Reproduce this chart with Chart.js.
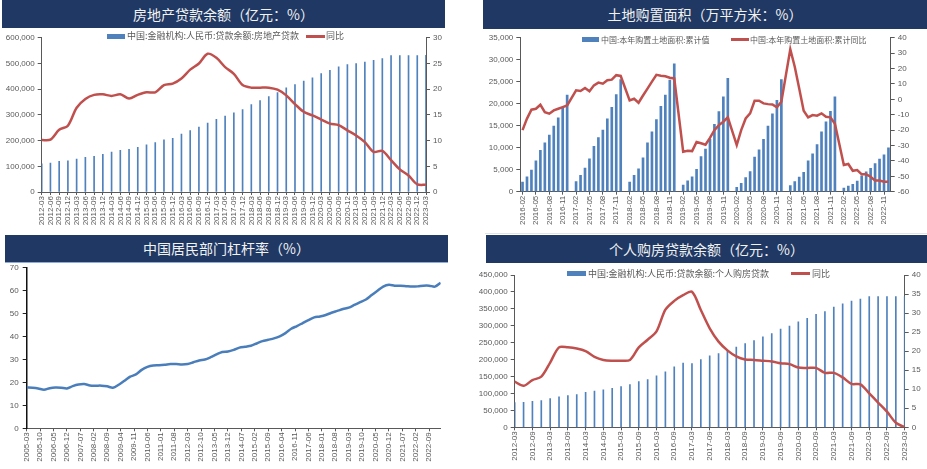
<!DOCTYPE html>
<html>
<head>
<meta charset="utf-8">
<script src="https://cdn.jsdelivr.net/npm/chart.js@4.4.0/dist/chart.umd.min.js"></script>
<style>
body { margin: 0; width: 927px; height: 469px; background: #fff; position: relative; overflow: hidden; }
canvas { position: absolute; }
.title { position: absolute; background: #1f3864; color: #f2f2f2; font: 14px "Noto Sans CJK SC", sans-serif; text-align: center; z-index: 2; }
.lg { position: absolute; color: #595959; font-family: "Noto Sans CJK SC", sans-serif; white-space: nowrap; height: 12px; line-height: 12px; z-index: 3; }
.sw { position: absolute; z-index: 3; }
</style>
</head>
<body>

<canvas id="reChart" width="445" height="200" style="left:0;top:30px"></canvas>
<canvas id="landChart" width="457" height="202" style="left:470px;top:30px"></canvas>
<canvas id="levChart" width="448" height="208" style="left:0;top:259px"></canvas>
<canvas id="hlChart" width="457" height="200" style="left:470px;top:266px"></canvas>

<div class="title" style="left:2px;top:0;width:443px;height:28px;line-height:28px">房地产贷款余额（亿元：%）</div>
<div class="title" style="left:483px;top:0;width:444px;height:29px;line-height:29px">土地购置面积（万平方米：%）</div>
<div class="title" style="left:5px;top:235px;width:443px;height:27px;line-height:27px;border-bottom:1px solid #8ea9db">中国居民部门杠杆率（%）</div>
<div class="title" style="left:486px;top:235px;width:441px;height:28px;line-height:28px">个人购房贷款余额（亿元：%）</div>

<!-- legends -->
<div class="sw" style="left:107px;top:33.5px;width:18px;height:5px;background:#4f81bd"></div>
<div class="lg" style="left:127px;top:30px;font-size:9px">中国:金融机构:人民币:贷款余额:房地产贷款</div>
<div class="sw" style="left:306px;top:35px;width:19px;height:2.5px;background:#c0504d"></div>
<div class="lg" style="left:326px;top:30px;font-size:9px">同比</div>

<div class="sw" style="left:582px;top:37px;width:17px;height:5px;background:#4f81bd"></div>
<div class="lg" style="left:601px;top:33.5px;font-size:8px">中国:本年购置土地面积:累计值</div>
<div class="sw" style="left:731px;top:38.3px;width:18px;height:2.5px;background:#c0504d"></div>
<div class="lg" style="left:750px;top:33.5px;font-size:8px">中国:本年购置土地面积:累计同比</div>

<div class="sw" style="left:567px;top:271px;width:19px;height:5px;background:#4f81bd"></div>
<div class="lg" style="left:588px;top:267.5px;font-size:9px">中国:金融机构:人民币:贷款余额:个人购房贷款</div>
<div class="sw" style="left:791px;top:272.3px;width:19px;height:2.5px;background:#c0504d"></div>
<div class="lg" style="left:812px;top:267.5px;font-size:9px">同比</div>

<div style="position:absolute;left:485px;top:233px;width:442px;height:1px;background:#e3e3e3"></div>

<script>
// ---------- data ----------

// 房地产贷款余额 (quarterly)
const reQuarters = [
  '2012-03','2012-06','2012-09','2012-12','2013-03','2013-06','2013-09','2013-12',
  '2014-03','2014-06','2014-09','2014-12','2015-03','2015-06','2015-09','2015-12',
  '2016-03','2016-06','2016-09','2016-12','2017-03','2017-06','2017-09','2017-12',
  '2018-03','2018-06','2018-09','2018-12','2019-03','2019-06','2019-09','2019-12',
  '2020-03','2020-06','2020-09','2020-12','2021-03','2021-06','2021-09','2021-12',
  '2022-03','2022-06','2022-09','2022-12','2023-03'
];
const reLoans = [
  110000, 113000, 119000, 121000, 128000, 135000, 139000, 147000,
  155000, 162000, 166000, 174000, 184000, 192000, 203000, 209000,
  225000, 239000, 253000, 268000, 283000, 295000, 308000, 321000,
  340000, 356000, 371000, 387000, 405000, 418000, 432000, 444000,
  461000, 473000, 487000, 496000, 500000, 506000, 512000, 519000,
  531000, 531000, 531000, 531000, 532000
];
const reYoY = [
  10.1, 10.2, 12.1, 12.9, 16.4, 18.1, 18.9, 19.0,
  18.7, 19.0, 18.2, 18.9, 19.4, 19.4, 20.8, 21.1,
  22.1, 23.8, 25.0, 26.9, 26.1, 24.3, 23.0, 20.8,
  20.3, 20.3, 20.3, 19.9, 18.8, 17.1, 15.6, 14.9,
  14.1, 13.3, 13.0, 12.0, 11.0, 9.7, 7.8, 8.0,
  6.2, 4.4, 3.2, 1.5, 1.4
];

// 土地购置面积 (monthly cumulative, January has no release)
const landMonths = [];
for (let y = 2016; y <= 2022; y++) {
  for (let m = (y === 2016 ? 2 : 1); m <= 12; m++) {
    landMonths.push(y + '-' + String(m).padStart(2, '0'));
  }
}
const landArea = [
  2200, 3400, 4900, 7000, 9400, 11100, 12900, 14900, 16800, 19200, 22000,
  null, 2300, 3700, 5400, 7500, 10300, 12300, 14000, 16600, 19200, 22100, 25500,
  null, 2200, 3700, 5200, 7700, 11100, 13600, 16400, 19400, 22000, 25400, 29100,
  null, 1500, 2500, 3400, 5100, 8000, 9700, 11900, 15300, 18200, 21600, 25800,
  null, 1000, 1900, 3200, 4600, 7900, 9500, 11900, 14900, 17700, 20800, 25500,
  null, 1400, 2300, 3300, 4400, 7000, 8600, 10700, 13600, 15900, 18300, 21600,
  null, 800, 1300, 1700, 2400, 3600, 4500, 5300, 6400, 7400, 8400, 10000
];
const landYoY = [
  -20.0, -12.5, -6.7, -6.1, -3.5, -8.3, -9.3, -7.2, -6.1, -5.0, -3.9,
  null, 5.9, 5.4, 7.4, 5.2, 9.1, 10.9, 10.2, 12.4, 12.8, 15.7, 15.2,
  null, -0.7, 0.4, -2.2, 2.5, 7.0, 11.5, 15.9, 15.4, 15.0, 14.1, 13.6,
  null, -34.0, -33.4, -33.6, -27.7, -28.5, -29.5, -25.0, -20.0, -16.7, -14.5, -11.7,
  null, -29.7, -20.0, -12.4, -9.1, -0.9, -0.9, -2.6, -3.1, -3.3, -5.2, -1.6,
  null, 32.6, 21.2, 7.1, -7.4, -11.7, -10.2, -10.6, -9.1, -11.3, -11.7, -15.9,
  null, -42.7, -42.0, -46.4, -45.9, -48.7, -48.7, -50.3, -52.8, -52.8, -53.5, -53.5
];

// 中国居民部门杠杆率 (quarterly, 2005-03 .. 2023-03)
const levStart = '2005-03';
const leverage = [
  17.8, 17.7, 17.4, 16.8, 17.5, 17.8, 17.7, 17.4, 18.4, 19.1,
  19.3, 18.7, 18.6, 18.6, 18.3, 17.7, 19.0, 20.7, 22.5, 23.5,
  25.5, 26.8, 27.4, 27.5, 27.7, 28.0, 28.0, 27.8, 28.0, 28.8,
  29.6, 30.0, 31.0, 32.2, 33.3, 33.5, 34.2, 35.2, 35.6, 36.0,
  37.0, 38.0, 38.6, 39.2, 40.1, 41.5, 43.4, 44.6, 45.9, 47.2,
  48.4, 48.8, 49.4, 50.4, 51.2, 52.0, 52.6, 53.8, 55.0, 56.2,
  58.1, 60.0, 61.8, 62.6, 62.2, 62.2, 62.0, 61.8, 61.9, 62.2,
  62.2, 61.8, 63.5
];

// 个人购房贷款余额 (quarterly)
const hlQuarters = reQuarters;
const hlLoans = [
  73000, 74000, 77000, 79000, 85000, 90000, 94000, 97000,
  103000, 107000, 111000, 115000, 120000, 126000, 135000, 141000,
  152000, 164000, 179000, 190000, 188000, 200000, 211000, 218000,
  225000, 237000, 247000, 256000, 267000, 277000, 290000, 299000,
  312000, 322000, 334000, 342000, 355000, 365000, 373000, 379000,
  386000, 386000, 386000, 386000, 386000
];
const hlYoY = [
  12.0, 10.9, 12.4, 13.3, 17.0, 21.0, 21.0, 20.7,
  20.0, 18.5, 17.7, 17.5, 17.5, 17.7, 21.0, 23.0,
  25.2, 30.9, 33.2, 34.7, 35.6, 30.8, 26.0, 22.5,
  20.2, 18.6, 17.8, 17.7, 17.5, 17.3, 16.8, 16.6,
  15.7, 15.6, 15.6, 14.3, 14.3, 13.1, 11.4, 11.3,
  8.9, 6.5, 4.1, 1.2, 0.0
];

// ---------- shared styling ----------
const GRAY = '#595959';
const BLUE = '#4f81bd';
const RED = '#c0504d';
const FONT = { family: '"Liberation Sans", Arial, sans-serif', size: 8 };

Chart.defaults.animation = false;
Chart.defaults.responsive = false;
Chart.defaults.plugins.legend.display = false;
Chart.defaults.plugins.tooltip.enabled = false;

function thousands(v) {
  return String(v).replace(/\B(?=(\d{3})+(?!\d))/g, ',');
}

function vAxis(position, min, max, step, width, fmt) {
  return {
    position: position,
    min: min,
    max: max,
    ticks: { stepSize: step, color: GRAY, font: FONT, padding: 3, callback: fmt || (v => v) },
    grid: { drawOnChartArea: false, tickLength: 4, color: GRAY },
    border: { color: GRAY },
    afterFit: s => { s.width = width; }
  };
}

function xAxis(labels, every, height, offset) {
  return {
    offset: offset,
    ticks: {
      autoSkip: false, minRotation: 90, maxRotation: 90,
      color: GRAY, font: FONT, padding: 1,
      callback: (v, i) => (i % every === 0 ? labels[i] : null)
    },
    grid: { drawOnChartArea: false, tickLength: 3, color: GRAY, offset: false },
    border: { color: GRAY },
    afterFit: s => { s.height = height; }
  };
}

// ---------- 房地产贷款余额 ----------
new Chart(document.getElementById('reChart'), {
  type: 'bar',
  data: {
    labels: reQuarters,
    datasets: [
      { type: 'line', data: reYoY, yAxisID: 'y1', borderColor: RED, borderWidth: 2.5,
        pointRadius: 0, tension: 0.3, order: 1 },
      { type: 'bar', data: reLoans, yAxisID: 'y', backgroundColor: BLUE,
        barThickness: 1, order: 2 }
    ]
  },
  options: {
    layout: { padding: { top: 7, left: 0, right: 0, bottom: 0 } },
    scales: {
      x: xAxis(reQuarters, 1, 38, false),
      y: vAxis('left', 0, 600000, 100000, 41.7, thousands),
      y1: vAxis('right', 0, 30, 5, 19)
    }
  }
});

// ---------- 土地购置面积 ----------
new Chart(document.getElementById('landChart'), {
  type: 'bar',
  data: {
    labels: landMonths,
    datasets: [
      { type: 'line', data: landYoY, yAxisID: 'y1', borderColor: RED, borderWidth: 2.5,
        pointRadius: 0, tension: 0, spanGaps: true, order: 1 },
      { type: 'bar', data: landArea, yAxisID: 'y', backgroundColor: BLUE,
        barThickness: 2, order: 2 }
    ]
  },
  options: {
    layout: { padding: { top: 7.7, left: 0, right: 0, bottom: 0 } },
    scales: {
      x: xAxis(landMonths, 3, 40.3, true),
      y: vAxis('left', 0, 35000, 5000, 50.3, thousands),
      y1: vAxis('right', -60, 40, 10, 36.3)
    }
  }
});

// ---------- 中国居民部门杠杆率 ----------
const levY0 = +levStart.slice(0, 4);
const levM0 = +levStart.slice(5) - 1;
function monthLabel(n) {
  const t = levM0 + n;
  return (levY0 + Math.floor(t / 12)) + '-' + String(t % 12 + 1).padStart(2, '0');
}
const levPoints = leverage.map((v, i) => ({ x: i * 3, y: v }));
const levLast = (leverage.length - 1) * 3;

new Chart(document.getElementById('levChart'), {
  type: 'line',
  data: {
    datasets: [
      { data: levPoints, borderColor: '#4a7ebb', borderWidth: 2.5, pointRadius: 0, tension: 0.3 }
    ]
  },
  options: {
    layout: { padding: { top: 3.4, left: 0, right: 7.3, bottom: 0 } },
    scales: {
      x: {
        type: 'linear', min: 0, max: levLast,
        ticks: {
          stepSize: 7, includeBounds: false, autoSkip: false, minRotation: 90, maxRotation: 90,
          color: GRAY, font: FONT, padding: 1, callback: v => monthLabel(v)
        },
        grid: { drawOnChartArea: false, tickLength: 3, color: GRAY },
        border: { color: GRAY },
        afterFit: s => { s.height = 38.7; }
      },
      y: {
        min: 0, max: 70,
        ticks: { stepSize: 10, color: GRAY, font: FONT, padding: 4 },
        grid: { drawOnChartArea: false, tickLength: 4, color: '#222' },
        border: { color: '#111', width: 1.5 },
        afterFit: s => { s.width = 26.7; }
      }
    }
  }
});

// ---------- 个人购房贷款余额 ----------
new Chart(document.getElementById('hlChart'), {
  type: 'bar',
  data: {
    labels: hlQuarters,
    datasets: [
      { type: 'line', data: hlYoY, yAxisID: 'y1', borderColor: RED, borderWidth: 2.5,
        pointRadius: 0, tension: 0.3, order: 1 },
      { type: 'bar', data: hlLoans, yAxisID: 'y', backgroundColor: BLUE,
        barThickness: 1, order: 2 }
    ]
  },
  options: {
    layout: { padding: { top: 9, left: 0, right: 0, bottom: 0 } },
    scales: {
      x: xAxis(hlQuarters, 2, 38.7, false),
      y: vAxis('left', 0, 450000, 50000, 44.7, thousands),
      y1: vAxis('right', 0, 40, 5, 22.3)
    }
  }
});
</script>
</body>
</html>
